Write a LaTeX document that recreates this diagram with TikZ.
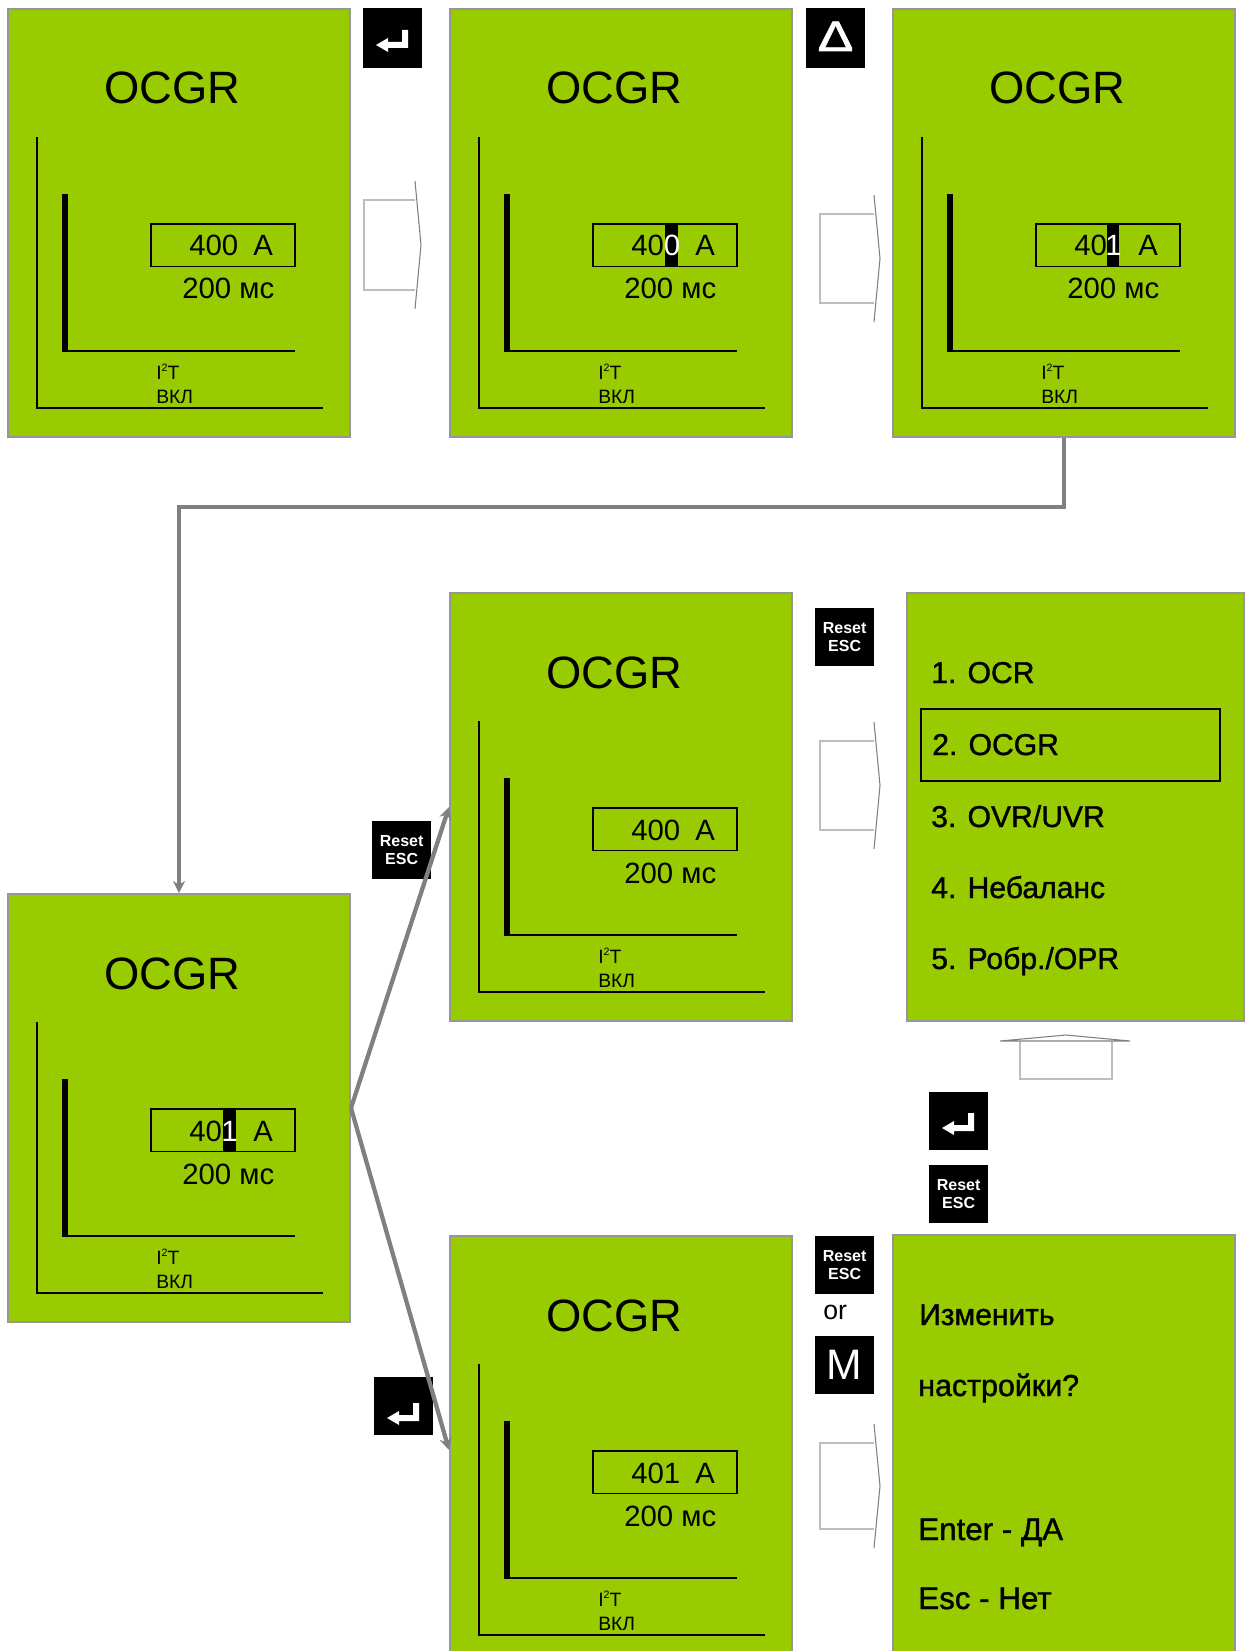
\documentclass[tikz,border=0pt]{standalone}
\usepackage{fontspec}
\setmainfont{Liberation Sans}
\newfontfamily\boldish[FakeBold=1.2]{Liberation Sans}
\newfontfamily\deltafont[FakeBold=1.5]{Liberation Sans}
\newcommand{\sz}[1]{\fontsize{#1}{#1}\selectfont}
\definecolor{lcd}{HTML}{99CC00}
\definecolor{edge}{HTML}{969696}
\definecolor{conn}{HTML}{808080}
\definecolor{blockline}{HTML}{BDBDBD}
\usetikzlibrary{arrows.meta}
\tikzset{
  x=0.75pt,y=-0.75pt,
  lcdpanel/.style={draw=edge,line width=1.5pt,fill=lcd,inner sep=0pt,minimum width=256.5pt,minimum height=321pt,anchor=north west},
  keybox/.style={fill=black,text=white,inner sep=0pt,minimum width=44pt,minimum height=43.5pt,anchor=north west,align=center},
  resetkey/.style={keybox,font=\bfseries\fontsize{12pt}{13.5pt}\selectfont},
  lab/.style={inner sep=0pt,anchor=base west,text=black},
  link/.style={draw=conn,line width=3.2pt,-{Stealth[length=9pt,width=9pt]}},
  blockbody/.style={draw=blockline,line width=1.6pt,fill=white},
  blockhead/.style={draw=conn,line width=.8pt,fill=white},
  thinline/.style={draw=black,line width=1.1pt},
}
\newcommand{\lcdscreen}[4]{%
  \node[lcdpanel] (#1) at (#2,#3) {};
  \begin{scope}[shift={(#2,#3)}]
    \node[lab] (#1t) at (97,96) {\sz{34pt}OCGR};
    \draw[thinline] (30,129) -- (30,400) -- (316,400);
    \fill[black] (55,186) rectangle (61,343);
    \draw[thinline] (55,343) -- (288,343);
    \node[draw=black,line width=1.2pt,inner sep=0pt,minimum width=108pt,minimum height=32pt,anchor=north west] (#1b) at (143,215) {};
    #4
    \node[lab] (#1c) at (175,291) {\sz{22pt}200 мс};
    \node[lab] (#1i) at (149,371) {\sz{14.5pt}I\raisebox{.38em}{\sz{8pt}2}T};
    \node[lab] (#1o) at (149,395) {\sz{14.5pt}ВКЛ};
  \end{scope}
}
\newcommand{\val}[1]{\node[lab] at (182,248) {\sz{22pt}#1}; \node[lab] at (246,248) {\sz{22pt}A};}
\newcommand{\cursor}[4]{\fill[black] (#1,216) rectangle (#2,258); \node[lab,text=white] at (#3,248) {\sz{22pt}#4};}
\newcommand{\enterglyph}[2]{%
  \fill[white,shift={(#1,#2)}] (-17,7) -- (-5,0) -- (-5,4) -- (9,4) -- (9,-8) -- (15,-8) -- (15,10) -- (-5,10) -- (-5,14) -- cycle;
}
\newcommand{\rightblock}[4]{%
  \fill[white] (#1,#3) rectangle (#2,#4);
  \draw[blockbody] (#2,#3) -- (#1,#3) -- (#1,#4) -- (#2,#4);
  \draw[blockhead] (#2,#3-19) -- (#2+6,{(#3+#4)/2}) -- (#2,#4+19);
}
\begin{document}
\begin{tikzpicture}
\useasboundingbox (0,0) rectangle (1247,1651);
\clip (0,0) rectangle (1247,1651);

\lcdscreen{pa}{7}{8}{\val{400}}
\lcdscreen{pb}{449}{8}{\val{40}\cursor{216}{229}{214.5}{0}}
\lcdscreen{pc}{892}{8}{\val{40}\cursor{215}{227}{213}{1}}
\lcdscreen{pd}{7}{893}{\val{40}\cursor{216}{229}{214}{1}}
\lcdscreen{pe}{449}{592}{\val{400}}
\lcdscreen{pf}{449}{1235}{\val{401}}

% menu panel
\node[lcdpanel,minimum width=252.5pt] (menu) at (906,592) {};
\node[draw=black,line width=1.2pt,inner sep=0pt,minimum width=224.5pt,minimum height=54pt,anchor=north west] (sel) at (920,708) {};
\node[lab] (m1) at (931,683) {\boldish\sz{22.6pt}1. OCR};
\node[lab] (m2) at (932,755) {\boldish\sz{22.6pt}2. OCGR};
\node[lab] (m3) at (931,827) {\boldish\sz{22.6pt}3. OVR/UVR};
\node[lab] (m4) at (931,898) {\boldish\sz{22.6pt}4. Небаланс};
\node[lab] (m5) at (931,969) {\boldish\sz{22.6pt}5. Робр./OPR};

% confirm panel
\node[lcdpanel] (conf) at (892,1234) {};
\node[lab] (q1) at (919,1325) {\boldish\sz{22.5pt}Изменить};
\node[lab] (q2) at (918,1396) {\boldish\sz{22.8pt}настройки?};
\node[lab] (q3) at (918,1540) {\boldish\sz{23.5pt}Enter - ДА};
\node[lab] (q4) at (918,1609) {\boldish\sz{23.5pt}Esc - Нет};

% keys
\node[keybox,minimum height=45pt] (k1) at (363,8) {}; \enterglyph{393}{38}
\node[keybox,minimum height=45pt] (k2) at (806,8) {\raisebox{3pt}{\scalebox{1.25}[1]{\deltafont\sz{32pt}Δ}}};
\node[resetkey] (k3) at (815,608) {Reset\\ESC};
\node[resetkey] (k4) at (372,821) {Reset\\ESC};
\node[keybox] (k5) at (929,1092) {}; \enterglyph{959}{1121}
\node[resetkey] (k6) at (929,1165) {Reset\\ESC};
\node[resetkey] (k7) at (815,1236) {Reset\\ESC};
\node[keybox] (k8) at (815,1336) {\sz{32pt}M};
\node[keybox] (k9) at (374,1377) {}; \enterglyph{404}{1411}
\node[lab] (orl) at (823,1319) {\sz{20pt}or};

% block arrows
\rightblock{364}{415}{200}{290}
\rightblock{820}{874}{214}{303}
\rightblock{820}{874}{741}{830}
\rightblock{820}{874}{1443}{1529}
\draw[blockbody] (1020,1041) -- (1020,1079) -- (1112,1079) -- (1112,1041);
\draw[blockhead] (1000,1041) -- (1066,1035) -- (1130,1041) -- cycle;

% connectors
\coordinate (drop) at (1064,507);
\draw[link] (pc.south -| drop) -- (drop) -| (pd.north);
\draw[link] (pd.east) -- (pe.west);
\draw[link] (pd.east) -- (pf.west);
\end{tikzpicture}
\end{document}
